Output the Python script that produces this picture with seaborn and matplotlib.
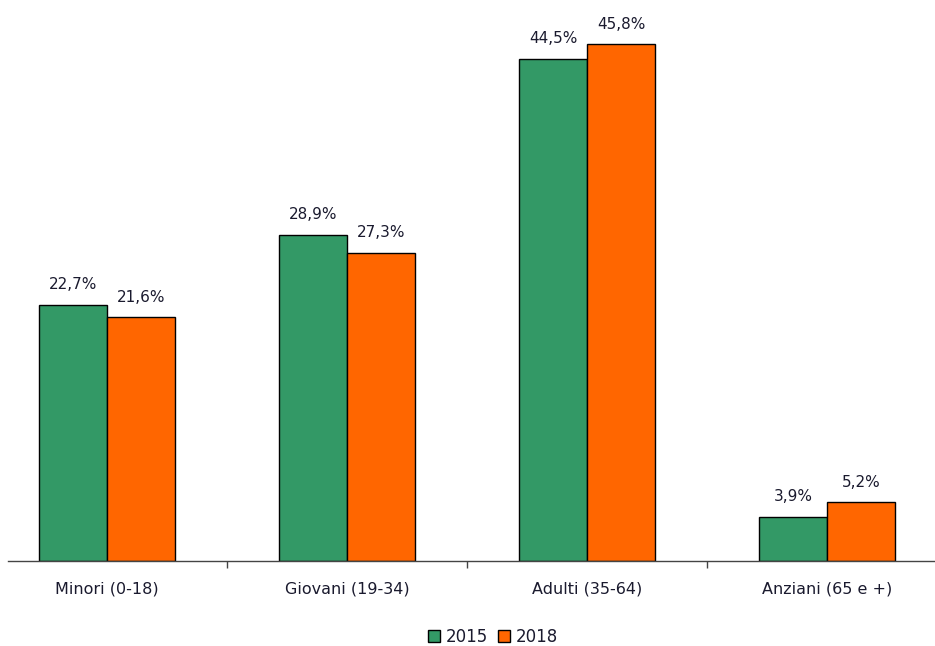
import matplotlib
matplotlib.use("Agg")
import matplotlib.pyplot as plt
import seaborn as sns
import pandas as pd
from matplotlib.ticker import FixedLocator
from matplotlib.patches import Patch

categories = ["Minori (0-18)", "Giovani (19-34)", "Adulti (35-64)", "Anziani (65 e +)"]
years = ["2015", "2018"]
values_2015 = [22.7, 28.9, 44.5, 3.9]
values_2018 = [21.6, 27.3, 45.8, 5.2]
colors = ["#339966", "#FF6600"]

df = pd.DataFrame({
    "cat": categories * 2,
    "year": [years[0]] * 4 + [years[1]] * 4,
    "val": values_2015 + values_2018,
})

sns.set_theme(style="white")
plt.rcParams["font.family"] = ["DejaVu Sans"]
text_color = "#1a1a2e"

fig = plt.figure(figsize=(9.35, 6.46), dpi=100)
ax = fig.add_axes([8/935, (646-561)/646, (935-8)/935, 561/646])

sns.barplot(data=df, x="cat", y="val", hue="year", palette=colors,
            width=0.567, edgecolor="black", linewidth=1.0, ax=ax,
            legend=False, saturation=1)

for cont in ax.containers:
    labels = [f"{v:.1f}".replace(".", ",") + "%" for v in cont.datavalues]
    ax.bar_label(cont, labels=labels, padding=9, fontsize=11, color=text_color)

ax.set_xlim(-0.4125, 3.45)
ax.set_ylim(0, 49.7)
ax.set_xlabel("")
ax.set_ylabel("")
ax.set_yticks([])
for s in ["top", "right", "left"]:
    ax.spines[s].set_visible(False)
ax.spines["bottom"].set_color("#444444")
ax.spines["bottom"].set_linewidth(1.0)
ax.tick_params(axis="x", which="major", length=0, pad=15, labelsize=11.5, labelcolor=text_color)
ax.xaxis.set_minor_locator(FixedLocator([0.5, 1.5, 2.5]))
ax.tick_params(axis="x", which="minor", length=5, width=1, color="#444444", bottom=True)

handles = [Patch(facecolor=c, edgecolor="black", linewidth=1.0, label=y) for c, y in zip(colors, years)]
fig.legend(handles=handles, loc="center", bbox_to_anchor=(493/935, 1 - 637/646), ncol=2,
           frameon=False, fontsize=12, handlelength=0.72, handleheight=0.72,
           handletextpad=0.35, columnspacing=0.6, labelcolor=text_color)

fig.savefig("out.png", dpi=100)
